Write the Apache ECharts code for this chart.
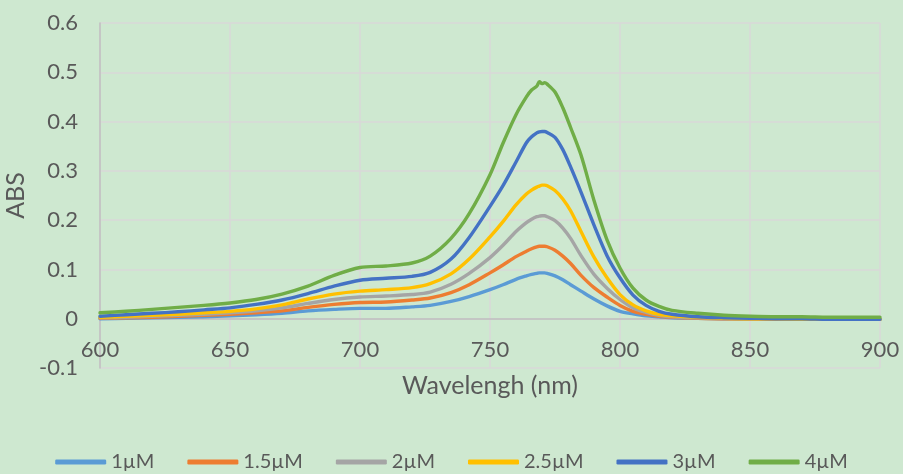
<!DOCTYPE html>
<html>
<head>
<meta charset="utf-8">
<script src="https://cdn.jsdelivr.net/npm/echarts@6/dist/echarts.min.js"></script>
<style>
html,body{margin:0;padding:0;background:#CEE8D0;}
#chart{width:903px;height:474px;}
</style>
</head>
<body>
<div id="chart"></div>
<script>
const wavelengths = [600,610,620,630,640,650,660,670,680,690,700,710,720,727,735,742,750,755,760,764,766,768,769,770,771,772,775,778,781,785,790,795,800,805,810,815,820,830,840,850,860,870,880,890,900];
const seriesNames = ['1µM','1.5µM','2µM','2.5µM','3µM','4µM'];
const abs1  = [0,0.001,0.002,0.003,0.004,0.006,0.008,0.011,0.016,0.019,0.021,0.021,0.024,0.027,0.035,0.045,0.059,0.069,0.080,0.087,0.090,0.092,0.093,0.093,0.093,0.092,0.087,0.079,0.069,0.056,0.04,0.026,0.015,0.01,0.006,0.004,0.002,0.001,0,-0.001,-0.001,-0.001,-0.001,-0.001,-0.001];
const abs15 = [0.001,0.002,0.003,0.005,0.007,0.009,0.012,0.016,0.023,0.029,0.033,0.034,0.038,0.042,0.053,0.069,0.093,0.109,0.126,0.137,0.142,0.146,0.147,0.147,0.147,0.146,0.139,0.127,0.112,0.088,0.063,0.044,0.027,0.015,0.009,0.005,0.003,0.001,0,0,-0.001,-0.001,-0.001,-0.001,-0.001];
const abs2  = [0.002,0.003,0.005,0.007,0.009,0.012,0.016,0.022,0.031,0.039,0.044,0.046,0.049,0.054,0.070,0.092,0.124,0.149,0.177,0.195,0.202,0.207,0.208,0.209,0.209,0.207,0.199,0.184,0.163,0.128,0.09,0.062,0.039,0.022,0.013,0.007,0.004,0.002,0.001,0,0,-0.001,-0.001,-0.001,-0.001];
const abs25 = [0.003,0.005,0.007,0.009,0.012,0.015,0.020,0.028,0.040,0.050,0.056,0.059,0.063,0.071,0.091,0.121,0.166,0.197,0.231,0.253,0.261,0.267,0.269,0.271,0.271,0.270,0.260,0.243,0.219,0.177,0.125,0.083,0.049,0.028,0.016,0.009,0.006,0.003,0.001,0,0,-0.001,-0.001,-0.001,-0.001];
const abs3  = [0.005,0.008,0.011,0.014,0.018,0.022,0.029,0.038,0.051,0.066,0.078,0.082,0.086,0.094,0.121,0.165,0.228,0.270,0.318,0.357,0.369,0.377,0.379,0.380,0.380,0.378,0.368,0.343,0.308,0.257,0.19,0.128,0.083,0.048,0.027,0.015,0.009,0.004,0.002,0.001,0,0,-0.001,-0.001,-0.001];
const abs4  = [0.012,0.015,0.019,0.023,0.027,0.032,0.039,0.050,0.066,0.088,0.104,0.107,0.113,0.127,0.163,0.213,0.292,0.356,0.414,0.450,0.464,0.472,0.481,0.477,0.479,0.476,0.460,0.428,0.388,0.332,0.240,0.160,0.103,0.062,0.038,0.025,0.017,0.011,0.007,0.005,0.004,0.004,0.003,0.003,0.003];
const colors = ['#5B9BD5','#ED7D31','#A5A5A5','#FFC000','#4472C4','#70AD47'];
const allValues = [abs1, abs15, abs2, abs25, abs3, abs4];

const FONT = 'Lato, "Open Sans", sans-serif';
const TXT = '#595959';
const GRID_TOP = 23, GRID_BOTTOM = 106, H = 474;
const zeroOffset = -(H - GRID_TOP - GRID_BOTTOM) / 7; // y axis spans -0.1..0.6, x axis sits at 0

const chart = echarts.init(document.getElementById('chart'), null, {renderer:'canvas'});
chart.setOption({
  backgroundColor: '#CEE8D0',
  animation: false,
  color: colors,
  textStyle: {fontFamily: FONT},
  grid: {left: 100, right: 23, top: GRID_TOP, bottom: GRID_BOTTOM, containLabel: false, outerBoundsMode: 'none'},
  legend: {
    top: 452,
    left: 'center',
    padding: 0,
    icon: 'roundRect',
    itemWidth: 51,
    itemHeight: 5,
    itemGap: 33,
    textStyle: {color: TXT, fontSize: 20, fontFamily: FONT},
    data: seriesNames
  },
  xAxis: {
    type: 'value',
    min: 600, max: 900, interval: 50,
    offset: zeroOffset,
    name: 'Wavelengh (nm)',
    nameLocation: 'middle',
    nameGap: 55,
    nameTextStyle: {color: TXT, fontSize: 25, fontFamily: FONT},
    axisLine: {show: true, onZero: false, lineStyle: {color: '#BFBFBF', width: 1.5}},
    axisTick: {show: false},
    axisLabel: {color: TXT, fontSize: 22, margin: 20, fontFamily: FONT},
    splitLine: {show: true, lineStyle: {color: '#D9D9D9', width: 1.5}}
  },
  yAxis: {
    type: 'value',
    min: -0.1, max: 0.6, interval: 0.1,
    name: 'ABS',
    nameLocation: 'middle',
    nameGap: 70,
    nameTextStyle: {color: TXT, fontSize: 25, fontFamily: FONT},
    axisLine: {show: true, lineStyle: {color: '#BFBFBF', width: 1.5}},
    axisTick: {show: false},
    axisLabel: {color: TXT, fontSize: 22, margin: 22, fontFamily: FONT},
    splitLine: {show: true, lineStyle: {color: '#D9D9D9', width: 1.5}}
  },
  series: seriesNames.map((n, i) => ({
    name: n,
    type: 'line',
    smooth: 0.3,
    showSymbol: false,
    symbol: 'none',
    lineStyle: {width: 3.4, color: colors[i], cap: 'round', join: 'round'},
    data: wavelengths.map((w, j) => [w, allValues[i][j]])
  }))
});
</script>
</body>
</html>
